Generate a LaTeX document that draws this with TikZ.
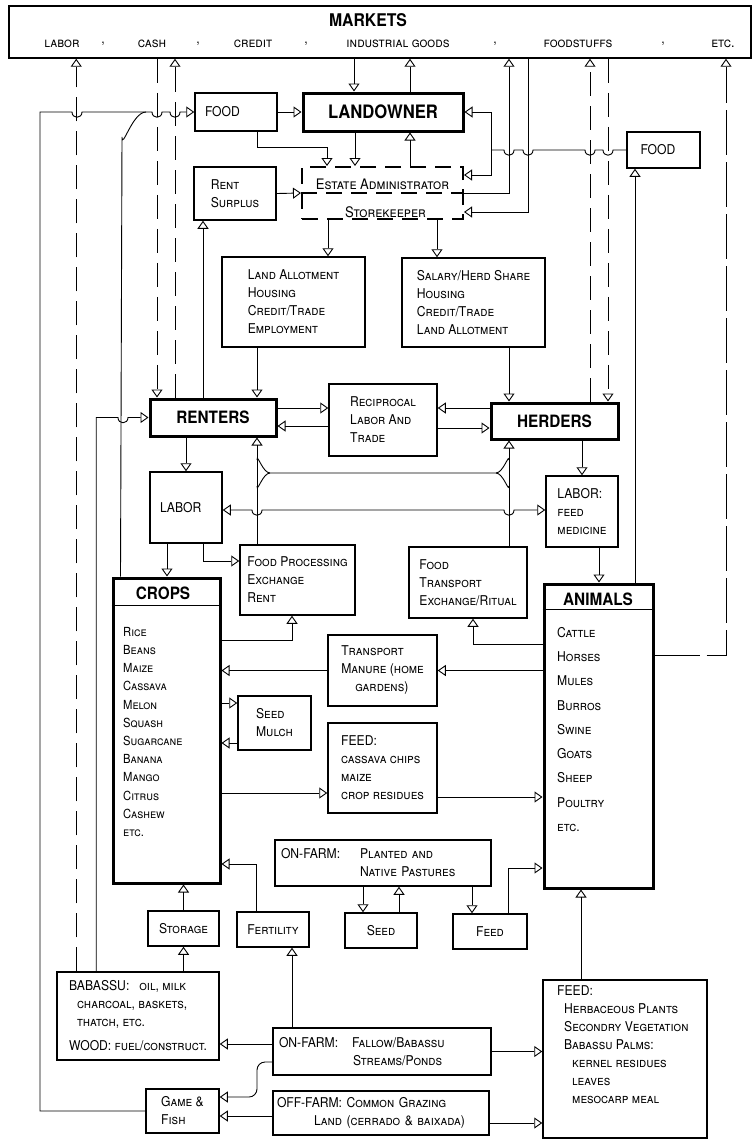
\documentclass[tikz,border=0pt]{standalone}
\usepackage{fontspec}
\setmainfont{TeX Gyre Heros}[FakeStretch=0.9]
\usetikzlibrary{arrows.meta}
\hyphenpenalty=10000
\exhyphenpenalty=10000

\begin{document}
\begin{tikzpicture}[x=1pt, y=-1pt,
    font=\fontsize{13.5}{18}\selectfont\scshape,
    box/.style={draw, line width=1.5pt, inner sep=0pt, align=left},
    heavy/.style={draw, line width=3pt, inner sep=0pt, font=\fontsize{17}{20}\selectfont\bfseries},
    list/.style={anchor=north west, inner sep=0pt, align=left},
    link/.style={line width=0.9pt},
    arr/.style={link, -{Triangle[open, width=11pt, length=8pt]}},
    twoway/.style={link, {Triangle[open, width=11pt, length=8pt]}-{Triangle[open, width=11pt, length=8pt]}},
    mkt/.style={dash pattern=on 24pt off 10pt},
    ]
    \useasboundingbox (0,0) rectangle (753,1140);

    % Markets bar
    \node[box, minimum width=742pt, minimum height=52pt] (markets) at (380,32) {};
    \node[font=\fontsize{17.5}{20}\selectfont\bfseries] (mkthead) at (368,20) {MARKETS};
    \node[font=\fontsize{14}{16}\selectfont\scshape] (mlabor) at (62,44) {labor};
    \node (sep1) at (103,44) {,};
    \node[font=\fontsize{14}{16}\selectfont\scshape] (mcash) at (152,44) {cash};
    \node (sep2) at (198,44) {,};
    \node[font=\fontsize{14}{16}\selectfont\scshape] (mcredit) at (253,44) {credit};
    \node (sep3) at (306,44) {,};
    \node[font=\fontsize{14}{16}\selectfont\scshape] (mgoods) at (398,44) {industrial goods};
    \node (sep4) at (495,44) {,};
    \node[font=\fontsize{14}{16}\selectfont\scshape] (mfood) at (578,44) {foodstuffs};
    \node (sep5) at (663,44) {,};
    \node[font=\fontsize{14}{16}\selectfont\scshape] (metc) at (723,44) {etc.};

    % Estate level
    \node[box, minimum width=82pt, minimum height=38pt, text width=62pt] (food) at (236,112) {FOOD};
    \node[heavy, minimum width=160pt, minimum height=38pt, font=\fontsize{18.5}{20}\selectfont\bfseries] (landowner) at (383,112) {LANDOWNER};
    \node[box, minimum width=73pt, minimum height=36pt, text width=46pt] (foodR) at (663.5,150) {FOOD};
    \node[box, minimum width=82pt, minimum height=53pt] (surplus) at (235,193.5) {Rent\\Surplus};
    \node[draw, line width=2pt, dash pattern=on 16pt off 9pt, minimum width=161pt, minimum height=52pt] (admin) at (382.5,193) {};
    \draw[line width=2pt, dash pattern=on 16pt off 9pt] (admin.west) -- (admin.east);
    \node[font=\fontsize{14.5}{18}\selectfont\scshape] (adminA) at ([yshift=9]admin.center) {Estate Administrator};
    \node[font=\fontsize{14.5}{18}\selectfont\scshape] (adminB) at ([xshift=3,yshift=-19]admin.center) {Storekeeper};
    \node[box, minimum width=143pt, minimum height=90pt] (allot) at (293.5,302) {Land Allotment\\Housing\\Credit/Trade\\Employment};
    \node[box, minimum width=143pt, minimum height=89pt] (salary) at (473.5,302.5) {Salary/Herd Share\\Housing\\Credit/Trade\\Land Allotment};

    % Households
    \node[heavy, minimum width=126pt, minimum height=37pt] (renters) at (213,417.5) {RENTERS};
    \node[box, minimum width=108pt, minimum height=72pt] (recip) at (383,420) {Reciprocal\\Labor And\\Trade};
    \node[heavy, minimum width=127pt, minimum height=36pt] (herders) at (554.5,421) {HERDERS};
    \node[box, minimum width=72pt, minimum height=71pt, text width=52pt] (laborL) at (186,507.5) {LABOR};
    \node[box, minimum width=72pt, minimum height=71pt] (laborR) at (582,511.5) {LABOR:\\feed\\medicine};
    \node[box, minimum width=115pt, minimum height=70pt] (process) at (297.5,580) {Food Processing\\Exchange\\Rent};
    \node[box, minimum width=118pt, minimum height=71pt] (ritual) at (468,582.5) {Food\\Transport\\Exchange/Ritual};

    % Crops and animals
    \node[heavy, minimum width=107pt, minimum height=305pt] (crops) at (166.5,730.5) {};
    \draw[line width=1.5pt] ([yshift=-29]crops.north west) -- ([yshift=-29]crops.north east);
    \node[font=\fontsize{17}{20}\selectfont\bfseries] (cropshead) at (163,593) {CROPS};
    \node[list, font=\fontsize{12.5}{18.2}\selectfont\scshape] (croplist) at (123,627)
        {Rice\\Beans\\Maize\\Cassava\\Melon\\Squash\\Sugarcane\\Banana\\Mango\\Citrus\\Cashew\\etc.};
    \node[heavy, minimum width=109pt, minimum height=304pt] (animals) at (598.5,736) {};
    \draw[line width=1.5pt] ([yshift=-27]animals.north west) -- ([yshift=-27]animals.north east);
    \node[font=\fontsize{17}{20}\selectfont\bfseries] (animalshead) at (598,599) {ANIMALS};
    \node[list, font=\fontsize{13.5}{24.25}\selectfont\scshape] (animallist) at (557,627)
        {Cattle\\Horses\\Mules\\Burros\\Swine\\Goats\\Sheep\\Poultry\\etc.};
    \node[box, minimum width=109pt, minimum height=71pt] (manure) at (382.5,670.5) {Transport\\Manure (home\\\hspace*{14pt}gardens)};
    \node[box, minimum width=73pt, minimum height=54pt] (mulch) at (274.5,723) {Seed\\Mulch};
    \node[box, minimum width=109pt, minimum height=90pt] (fodder) at (382.5,768) {FEED:\\cassava chips\\maize\\crop residues};

    % Land and resources
    \node[box, minimum width=216pt, minimum height=46pt, text width=204pt] (pasture) at (383,863) {\makebox[79pt][l]{ON-FARM:}Planted and\\\hspace*{79pt}Native Pastures};
    \node[box, minimum width=71pt, minimum height=35pt, align=center] (storage) at (183.5,928.5) {Storage};
    \node[box, minimum width=72pt, minimum height=35pt, align=center] (fertility) at (273,929.5) {Fertility};
    \node[box, minimum width=72pt, minimum height=35pt, align=center] (seed) at (381,930.5) {Seed};
    \node[box, minimum width=74pt, minimum height=35pt, align=center] (feedsm) at (490,931.5) {Feed};
    \node[box, minimum width=162pt, minimum height=88pt] (babassu) at (138,1016) {BABASSU:\hspace{10pt}oil, milk\\\hspace*{8pt}charcoal, baskets,\\\hspace*{8pt}thatch, etc.\\[6pt]WOOD: fuel/construct.};
    \node[box, minimum width=218pt, minimum height=47pt, text width=206pt] (fallow) at (382,1051.5) {\makebox[73pt][l]{ON-FARM:}Fallow/Babassu\\\hspace*{74pt}Streams/Ponds};
    \node[box, minimum width=73pt, minimum height=44pt] (game) at (182.5,1111) {Game \&\\Fish};
    \node[box, minimum width=216pt, minimum height=44pt, text width=208pt] (common) at (381,1113) {OFF-FARM: Common Grazing\\\hspace*{37pt}Land (cerrado \& baixada)};
    \node[box, minimum width=164pt, minimum height=158pt] (feedbig) at (625,1059) {};
    \node[list] (feedlist) at (557,985) {FEED:\\\hspace*{7pt}Herbaceous Plants\\\hspace*{7pt}Secondry Vegetation\\\hspace*{7pt}Babassu Palms:\\\hspace*{15pt}kernel residues\\\hspace*{15pt}leaves\\\hspace*{15pt}mesocarp meal};

    % Lanes to and from the markets
    \coordinate (laborout) at ([xshift=20]babassu.north west);
    \coordinate (bab2rent) at ([xshift=40]babassu.north west);
    \coordinate (cashin) at ([xshift=-56]renters.north);
    \coordinate (cashout) at ([xshift=-38]renters.north);
    \coordinate (goodsin) at ([xshift=-29]landowner.north);
    \coordinate (goodsout) at ([xshift=27]landowner.north);
    \coordinate (estout) at ([xshift=129]markets.south);
    \coordinate (estin) at ([xshift=148]markets.south);
    \coordinate (fstout) at ([xshift=35.5]herders.north);
    \coordinate (fstin) at ([xshift=53.5]herders.north);
    \coordinate (etcout) at ([xshift=346]markets.south);

    \draw[arr, mkt] (laborout) -- (laborout |- markets.south);
    \draw[arr, mkt] (cashin |- markets.south) -- (cashin);
    \draw[arr, mkt] (cashout) -- (cashout |- markets.south);
    \draw[arr] (goodsin |- markets.south) -- (goodsin);
    \draw[arr] (goodsout) -- (goodsout |- markets.south);
    \draw[arr] (admin.east) -| (estout);
    \draw[arr] (estin) |- ([yshift=-19]admin.east);
    \draw[arr, mkt] (fstout) -- (fstout |- markets.south);
    \draw[arr, mkt] (fstin |- markets.south) -- (fstin);
    \draw[arr, dash pattern=on 45pt off 7pt] ([yshift=81]animals.east) -| (etcout);

    % Food to the estate
    \draw[arr] (game.west) -| (40,112) -- (72,112) .. controls +(0,7) and +(0,7) .. (82,112)
        -- (152,112) .. controls +(0,7) and +(0,7) .. (162,112)
        -- (170,112) .. controls +(0,7) and +(0,7) .. (180,112) -- (food.west);
    \draw[link] ([xshift=9]crops.north west) -- (122,137) to[out=-90, in=180] (146,112);
    \draw[arr] (food.east) -- (landowner.west);
    \draw[arr] ([xshift=21]food.south) -- ++(0,16) -| ([xshift=26]admin.north west);
    \coordinate (lo2est) at ([xshift=-28]landowner.south);
    \coordinate (est2lo) at ([xshift=27]landowner.south);
    \draw[arr] (lo2est) -- (lo2est |- admin.north);
    \draw[arr] (est2lo |- admin.north) -- (est2lo);
    \draw[arr] (surplus.east) -- (admin.west);
    \draw[link] (foodR.west) -- (613,150) .. controls +(0,7) and +(0,7) .. (603,150)
        -- (595,150) .. controls +(0,7) and +(0,7) .. (585,150)
        -- (533,150) .. controls +(0,7) and +(0,7) .. (523,150)
        -- (514,150) .. controls +(0,7) and +(0,7) .. (504,150) -- (491,150) coordinate (foodsplit);
    \draw[arr] (foodsplit) |- (landowner.east);
    \draw[arr] (foodsplit) |- ([yshift=18]admin.east);

    % Estate to households
    \coordinate (est2allot) at ([xshift=-54.5]admin.south);
    \coordinate (est2sal) at ([xshift=54.5]admin.south);
    \draw[arr] (est2allot) -- (est2allot |- allot.north);
    \draw[arr] (est2sal) -- (est2sal |- salary.north);
    \coordinate (allot2rent) at ([xshift=-36.5]allot.south);
    \coordinate (sal2herd) at ([xshift=35.5]salary.south);
    \draw[arr] (allot2rent) -- (allot2rent |- renters.north);
    \draw[arr] (sal2herd) -- (sal2herd |- herders.north);
    \coordinate (rent2sur) at ([xshift=-10]renters.north);
    \draw[arr] (rent2sur) -- (rent2sur |- surplus.south);

    % Reciprocal exchange
    \draw[arr] ([yshift=9.5]renters.east) -- ([yshift=9.5]renters.east -| recip.west);
    \draw[arr] ([yshift=-8.5]renters.east -| recip.west) -- ([yshift=-8.5]renters.east);
    \draw[arr] ([yshift=13]herders.west) -- ([yshift=13]herders.west -| recip.east);
    \draw[arr] ([yshift=-7]herders.west -| recip.east) -- ([yshift=-7]herders.west);

    % Labor
    \draw[arr] ([xshift=-27]renters.south) -- (laborL.north);
    \draw[arr] ([xshift=27.5]herders.south) -- (laborR.north);
    \draw[arr] ([xshift=-19]laborL.south) -- ([xshift=-19]laborL.south |- crops.north);
    \draw[arr] ([xshift=17]laborL.south) |- ([yshift=19]process.west);
    \draw[arr] ([xshift=17]laborR.south) -- ([xshift=17]laborR.south |- animals.north);
    \draw[twoway] ([yshift=-2.5]laborL.east) -- (252,510) .. controls +(0,7) and +(0,7) .. (262,510)
        -- (504,510) .. controls +(0,7) and +(0,7) .. (514,510) -- ([yshift=1.5]laborR.west);

    % Products back to households
    \coordinate (proc2rent) at ([xshift=-40.5]process.north);
    \coordinate (rit2herd) at ([xshift=41]ritual.north);
    \draw[arr] (proc2rent) -- (proc2rent |- renters.south);
    \draw[arr] (rit2herd) -- (rit2herd |- herders.south);
    \draw[link] (257,460) to[out=90, in=180] (270,473) -- (496,473) to[out=0, in=90] (509,460);
    \draw[link] (257,486) to[out=-90, in=180] (270,473);
    \draw[link] (496,473) to[out=0, in=-90] (509,486);
    \draw[arr] ([yshift=90.5]crops.east) -| ([xshift=-5.5]process.south);
    \draw[arr] ([yshift=92]animals.west) -| ([xshift=5]ritual.south);
    \coordinate (an2food) at ([xshift=36.5]animals.north);
    \draw[arr] (an2food) -- (an2food |- foodR.south);

    % Crops and animals
    \draw[arr] (animals.west |- manure.east) -- (manure.east);
    \draw[arr] (manure.west) -- (manure.west -| crops.east);
    \draw[arr] ([yshift=20]mulch.west -| crops.east) -- ([yshift=20]mulch.west);
    \draw[arr] ([yshift=-20]mulch.west) -- ([yshift=-20]mulch.west -| crops.east);
    \draw[arr] ([yshift=-25]fodder.west -| crops.east) -- ([yshift=-25]fodder.west);
    \draw[arr] ([yshift=-29]fodder.east) -- ([yshift=-29]fodder.east -| animals.west);

    % Pastures and land
    \coordinate (pas2seed) at ([xshift=-20]pasture.south);
    \coordinate (seed2pas) at ([xshift=16]pasture.south);
    \coordinate (pas2feed) at ([xshift=89]pasture.south);
    \draw[arr] (pas2seed) -- (pas2seed |- seed.north);
    \draw[arr] (seed2pas |- seed.north) -- (seed2pas);
    \draw[arr] (pas2feed) -- (pas2feed |- feedsm.north);
    \draw[arr] ([xshift=18]feedsm.north) |- ([yshift=-132]animals.west);
    \draw[arr] ([xshift=-17]fertility.north) |- ([yshift=-133.5]crops.east);
    \draw[arr] (storage.north) -- (storage.north |- crops.south);
    \draw[arr] (storage.south |- babassu.north) -- (storage.south);
    \coordinate (fal2fert) at ([xshift=19]fertility.south);
    \draw[arr] (fal2fert |- fallow.north) -- (fal2fert);
    \draw[arr] ([yshift=7.5]fallow.west) -- ([yshift=7.5]fallow.west -| babassu.east);
    \draw[arr, rounded corners=8pt] ([yshift=-10.5]fallow.west) -- (257,1062) -- (257,1097) -- ([yshift=14]game.east);
    \draw[arr] ([yshift=-3]common.west) -- ([yshift=-3]common.west -| game.east);
    \draw[arr] (fallow.east) -- (fallow.east -| feedbig.west);
    \draw[arr] ([yshift=-10]common.east) -- ([yshift=-10]common.east -| feedbig.west);
    \coordinate (feed2an) at ([xshift=-44]feedbig.north);
    \draw[arr] (feed2an) -- (feed2an |- animals.south);
    \draw[arr] (bab2rent) |- (118,417.5) .. controls +(0,7) and +(0,7) .. (128,417.5) -- (renters.west);
\end{tikzpicture}
\end{document}
